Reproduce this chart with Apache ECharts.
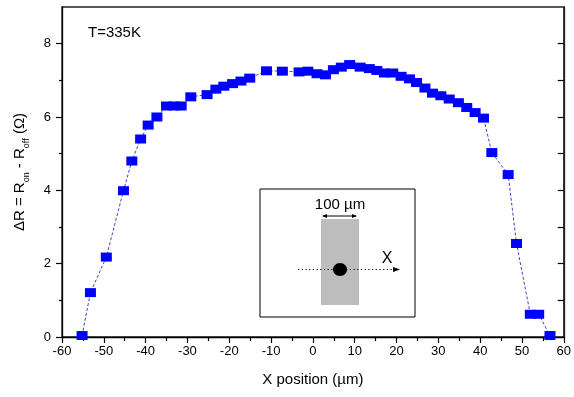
<!DOCTYPE html>
<html>
<head>
<meta charset="utf-8">
<script src="https://cdn.jsdelivr.net/npm/echarts@6/dist/echarts.min.js"></script>
<style>html,body{margin:0;padding:0;background:#fff}#c{width:574px;height:397px}</style>
</head>
<body>
<div id="c"></div>
<script>
// X position (µm)
var xPos = [-55.2, -53.2, -49.4, -45.3, -43.3, -41.2, -39.4, -37.3, -35.0, -33.2, -31.5, -29.2, -25.3, -23.2, -21.3, -19.2, -17.2, -15.1, -11.1, -7.3, -3.3, -1.2, 1.0, 3.0, 4.9, 6.8, 8.8, 11.3, 13.5, 15.3, 17.1, 19.1, 21.1, 23.1, 24.8, 26.8, 28.6, 30.6, 32.6, 34.8, 36.8, 38.8, 40.8, 42.8, 46.7, 48.7, 52.0, 54.0, 56.7];
// ΔR (Ω)
var dR = [0.04, 1.21, 2.18, 3.99, 4.80, 5.40, 5.78, 6.00, 6.30, 6.30, 6.30, 6.55, 6.61, 6.76, 6.84, 6.91, 6.98, 7.06, 7.26, 7.25, 7.23, 7.25, 7.18, 7.15, 7.29, 7.36, 7.43, 7.36, 7.32, 7.27, 7.20, 7.20, 7.11, 7.04, 6.94, 6.79, 6.65, 6.58, 6.49, 6.39, 6.26, 6.12, 5.97, 5.03, 4.43, 2.55, 0.62, 0.62, 0.04];
var yMajorTicks = [0, 2, 4, 6, 8];
var yMinorTicks = [1, 3, 5, 7];
var yRightTicks = [1, 2, 3, 4, 5, 6, 7, 8];
var annotation = 'T=335K';
var insetScale = '100 \u00b5m';
var insetAxis = 'X';

var data = xPos.map(function (x, i) { return [x, dR[i]]; });
var FONT = 'Liberation Sans';
var chart = echarts.init(document.getElementById('c'), null, {renderer: 'canvas'});
var axisLine = {onZero: false, lineStyle: {color: '#000', width: 1.3}};
chart.setOption({
  animation: false,
  backgroundColor: '#fff',
  grid: {left: 62, right: 8, top: 7, bottom: 60, show: true, borderColor: '#222', borderWidth: 1.3, backgroundColor: 'transparent'},
  xAxis: {
    type: 'value', min: -60, max: 60, interval: 10,
    axisLine: axisLine,
    axisTick: {show: true, inside: false, length: 6, lineStyle: {color: '#000', width: 1.2}},
    minorTick: {show: true, splitNumber: 2, length: 4, lineStyle: {color: '#000', width: 1.2}},
    splitLine: {show: false},
    axisLabel: {color: '#000', fontSize: 13, fontFamily: FONT, margin: 8},
    name: 'X position (\u00b5m)', nameLocation: 'middle', nameGap: 35,
    nameTextStyle: {color: '#000', fontSize: 15, fontFamily: FONT}
  },
  yAxis: [{
    type: 'value', min: 0, max: 9, position: 'left',
    axisLine: axisLine,
    axisTick: {show: true, inside: false, length: 6, customValues: yMajorTicks, lineStyle: {color: '#000', width: 1.2}},
    splitLine: {show: false},
    axisLabel: {color: '#000', fontSize: 13, fontFamily: FONT, margin: 11, customValues: yMajorTicks},
    name: '{a|\u0394R = R}{s|on}{a| - R}{s|off}{a| (\u03a9)}', nameLocation: 'middle', nameGap: 35,
    nameTextStyle: {
      color: '#000', fontSize: 15, fontFamily: FONT,
      rich: {
        a: {fontSize: 15, fontFamily: FONT, color: '#000', verticalAlign: 'bottom', lineHeight: 18},
        s: {fontSize: 9, fontFamily: FONT, color: '#000', verticalAlign: 'bottom', lineHeight: 18, padding: [0, 0, -4, 0]}
      }
    }
  }, {
    type: 'value', min: 0, max: 9, position: 'left',
    axisLine: {show: false, onZero: false},
    axisTick: {show: true, inside: false, length: 3, customValues: yMinorTicks, lineStyle: {color: '#000', width: 1.2}},
    splitLine: {show: false},
    axisLabel: {show: false}
  }, {
    type: 'value', min: 0, max: 9, position: 'right',
    axisLine: {show: true, onZero: false, lineStyle: {color: '#222', width: 1.3}},
    axisTick: {show: true, inside: true, length: 6, customValues: yRightTicks, lineStyle: {color: '#000', width: 1.2}},
    splitLine: {show: false},
    axisLabel: {show: false}
  }],
  series: [{
    type: 'line', data: data, xAxisIndex: 0, yAxisIndex: 0,
    symbol: 'rect', symbolSize: [11, 9],
    itemStyle: {color: '#0000ff'},
    lineStyle: {color: '#4040c8', width: 1, type: [3, 2]},
    z: 3
  }],
  graphic: [
    {type: 'text', left: 88, top: 25, style: {text: annotation, fontSize: 15, fontFamily: FONT, fill: '#000'}},
    {type: 'rect', shape: {x: 260, y: 189, width: 155, height: 128}, style: {fill: '#fff', stroke: '#000', lineWidth: 1}, z: 10},
    {type: 'rect', shape: {x: 321, y: 219, width: 38, height: 86}, style: {fill: '#bdbdbd'}, z: 11},
    {type: 'line', shape: {x1: 298, y1: 269.5, x2: 396, y2: 269.5}, style: {stroke: '#000', lineWidth: 1.2, lineDash: [1.2, 2.5]}, z: 12},
    {type: 'polygon', shape: {points: [[400, 269.5], [393, 267], [393, 272]]}, style: {fill: '#000'}, z: 12},
    {type: 'ellipse', shape: {cx: 340, cy: 269.5, rx: 7, ry: 6.5}, style: {fill: '#000'}, z: 13},
    {type: 'text', x: 387, y: 259, style: {text: insetAxis, fontSize: 16, fontFamily: FONT, fill: '#000', align: 'center', verticalAlign: 'middle'}, z: 13},
    {type: 'text', x: 340, y: 205, style: {text: insetScale, fontSize: 15, fontFamily: FONT, fill: '#000', align: 'center', verticalAlign: 'middle'}, z: 13},
    {type: 'line', shape: {x1: 323, y1: 216, x2: 356, y2: 216}, style: {stroke: '#000', lineWidth: 1}, z: 13},
    {type: 'polygon', shape: {points: [[322, 216], [327, 214], [327, 218]]}, style: {fill: '#000'}, z: 13},
    {type: 'polygon', shape: {points: [[357, 216], [352, 214], [352, 218]]}, style: {fill: '#000'}, z: 13}
  ]
});
</script>
</body>
</html>
